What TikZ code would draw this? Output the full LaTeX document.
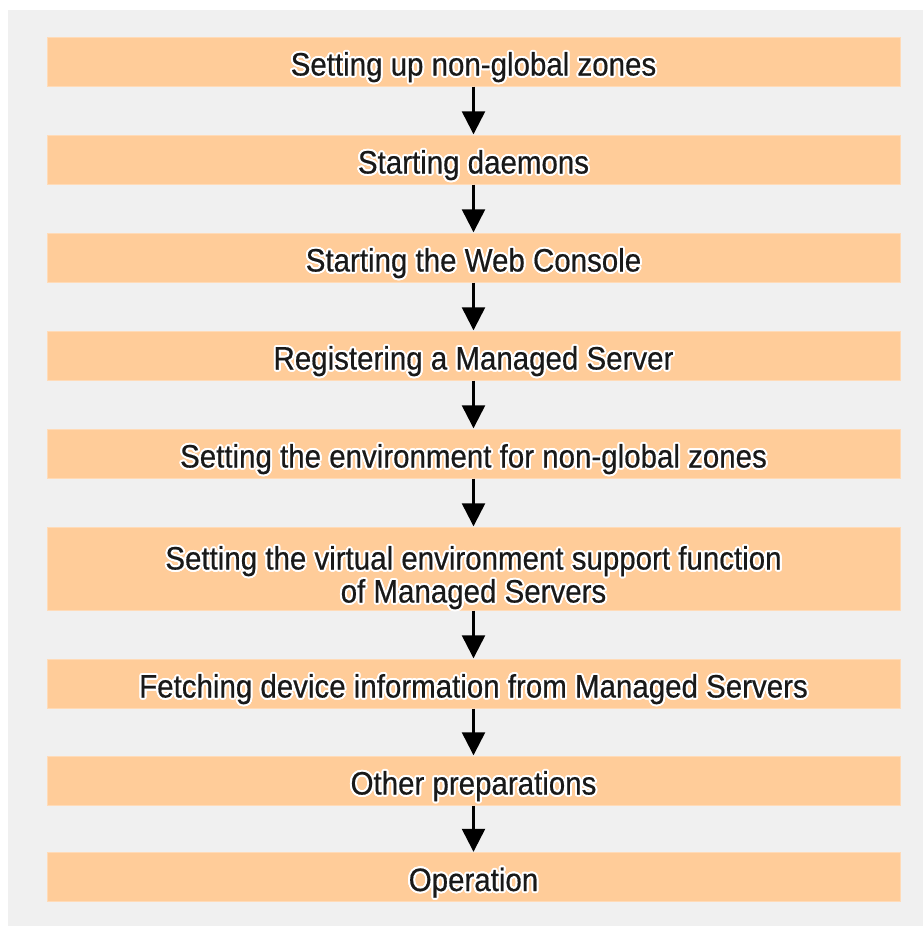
\documentclass[tikz,border=0pt]{standalone}
\usepackage{fontspec}
\setmainfont[FakeStretch=0.91, FakeBold=0.5]{Liberation Sans}
\usepackage[copies]{contour}
\usepackage{tikz}
\usetikzlibrary{arrows.meta}
\contourlength{1pt}
\contournumber{16}
\newcommand{\halo}[1]{\contour{white}{#1}}
\definecolor{stepfill}{HTML}{FFCC99}
\definecolor{panelgray}{HTML}{F0F0F0}
\tikzset{
  stepbox/.style={rectangle, fill=stepfill, draw=stepfill!70!white, line width=0.3pt,
    minimum width=426.5pt, minimum height=24.5pt, align=center, inner sep=0pt,
    text height=14pt, text depth=0pt,
    font=\fontsize{16.2}{16.5}\selectfont, text=black!90},
  flowarrow/.style={-{Triangle[length=11.5pt,width=11.5pt]}, draw=black, line width=1.2pt,
    shorten <=0.2pt, shorten >=0.2pt},
}

\begin{document}
\begin{tikzpicture}[x=0.5pt, y=-0.5pt]

  % ============ page and grey panel ============
  \useasboundingbox (0,0) rectangle (923,926);
  \fill[panelgray] (8,10) rectangle (923,926);

  % ============ steps (top to bottom) ============
  \node[stepbox] (zones)   at (473.5,  61.5) {\halo{Setting up non-global zones}};
  \node[stepbox] (daemons) at (473.5, 159.5) {\halo{Starting daemons}};
  \node[stepbox] (console) at (473.5, 257.5) {\halo{Starting the Web Console}};
  \node[stepbox] (regist)  at (473.5, 355.5) {\halo{Registering a Managed Server}};
  \node[stepbox] (envzone) at (473.5, 453.5) {\halo{Setting the environment for non-global zones}};
  % two lines: baseline sits on the last line
  \node[stepbox, minimum height=41.5pt, text height=34pt]
                 (virtenv) at (473.5, 568.5) {\halo{Setting the virtual environment support function}\\
                                              \halo{of Managed Servers}};
  \node[stepbox] (fetch)   at (473.5, 683.5) {\halo{Fetching device information from Managed Servers}};
  \node[stepbox] (other)   at (473.5, 780.5) {\halo{Other preparations}};
  \node[stepbox] (oper)    at (473.5, 877)   {\halo{Operation}};

  % ============ arrows ============
  \draw[flowarrow] (zones)   -- (daemons);
  \draw[flowarrow] (daemons) -- (console);
  \draw[flowarrow] (console) -- (regist);
  \draw[flowarrow] (regist)  -- (envzone);
  \draw[flowarrow] (envzone) -- (virtenv);
  \draw[flowarrow] (virtenv) -- (fetch);
  \draw[flowarrow] (fetch)   -- (other);
  \draw[flowarrow] (other)   -- (oper);

\end{tikzpicture}
\end{document}
